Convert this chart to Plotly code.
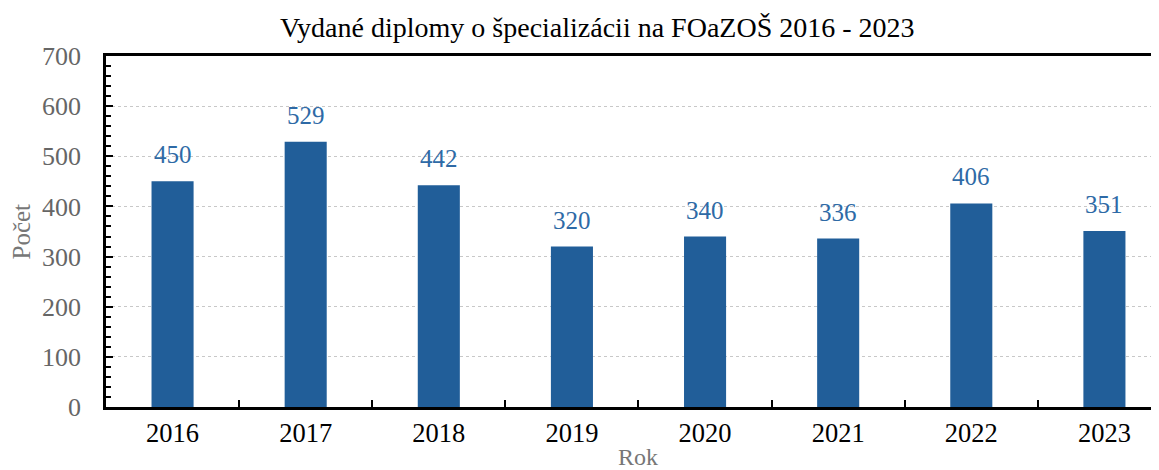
import plotly.graph_objects as go

years = ["2016", "2017", "2018", "2019", "2020", "2021", "2022", "2023"]
counts = [450, 529, 442, 320, 340, 336, 406, 351]
y_ticks = [0, 100, 200, 300, 400, 500, 600, 700]

title_text = "Vydané diplomy o špecializácii na FOaZOŠ 2016 - 2023"
x_title = "Rok"
y_title = "Počet"

FONT = "Liberation Serif, Times New Roman, serif"
BAR = "#215E99"
LBL = "#2E6AA6"

fig = go.Figure()
fig.add_trace(go.Bar(
    x=years, y=counts, width=0.316,
    marker=dict(color=BAR, line=dict(width=0)),
    hoverinfo="x+y",
))

for i, v in enumerate(counts):
    fig.add_annotation(x=i, y=v, text=str(v), showarrow=False,
                       xref="x", yref="y", yanchor="bottom", yshift=11,
                       font=dict(family=FONT, size=25, color=LBL))

fig.add_annotation(text=title_text, xref="paper", yref="paper", x=0.4668, y=1.0,
                   xanchor="center", yanchor="bottom", yshift=11, showarrow=False,
                   font=dict(family=FONT, size=28, color="#000000"))
fig.add_annotation(text=x_title, xref="paper", yref="paper", x=0.505, y=0,
                   xanchor="center", yanchor="middle", yshift=-50, showarrow=False,
                   font=dict(family=FONT, size=24, color="#777777"))
fig.add_annotation(text=y_title, xref="paper", yref="paper", x=0, y=0.5,
                   xanchor="center", yanchor="middle", xshift=-85, showarrow=False,
                   textangle=-90, font=dict(family=FONT, size=25, color="#777777"))

fig.update_layout(
    width=1151, height=462,
    margin=dict(l=98, r=0, t=48, b=63, autoexpand=False),
    paper_bgcolor="white", plot_bgcolor="white",
    showlegend=False,
    xaxis=dict(
        type="category", range=[-0.5, 7.41], automargin=False,
        showline=True, linecolor="black", linewidth=2.5, mirror=True,
        ticks="inside", tickson="boundaries", ticklen=7, tickwidth=2, tickcolor="black",
        tickfont=dict(family=FONT, size=26.5, color="#000000"),
        showgrid=False, zeroline=False,
    ),
    yaxis=dict(
        range=[0, 700], tickvals=y_ticks, automargin=False,
        showline=True, linecolor="black", linewidth=2.5,
        ticks="inside", ticklen=7, tickwidth=2, tickcolor="black",
        minor=dict(dtick=20, ticks="inside", ticklen=5, tickwidth=1.5, tickcolor="black", showgrid=False),
        tickfont=dict(family=FONT, size=26, color="#666666"),
        showgrid=True, gridcolor="#C8C8C8", griddash="dot", gridwidth=1,
        zeroline=False, ticklabelstandoff=17,
    ),
)

fig.write_html("out.html")
